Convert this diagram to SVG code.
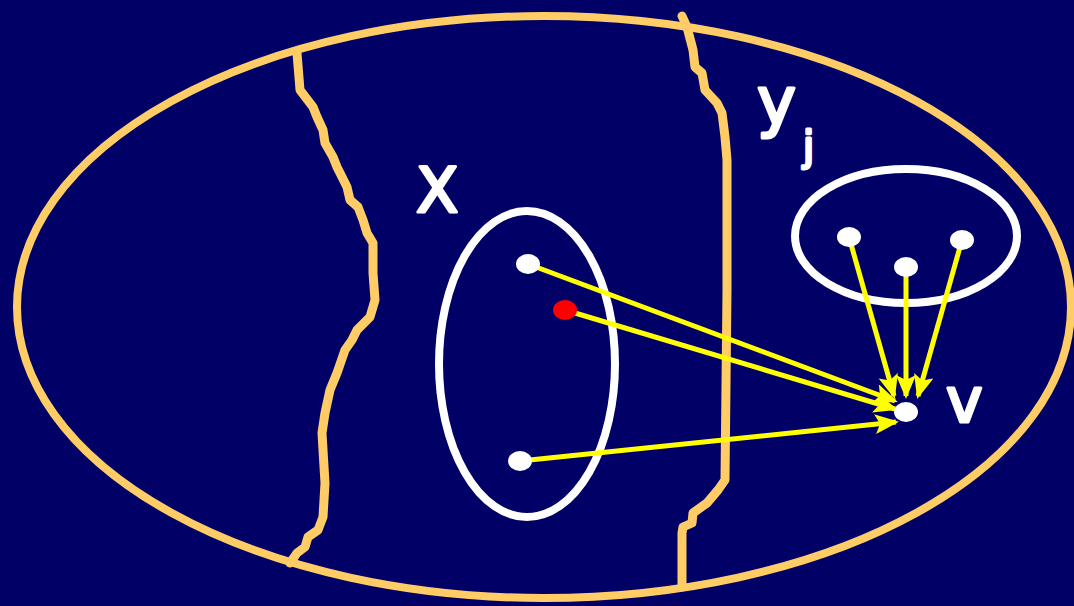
<svg xmlns="http://www.w3.org/2000/svg" width="1074" height="606" viewBox="0 0 1074 606">
<style>
.bound{fill:none;stroke:#FFCC66;stroke-width:8;stroke-linejoin:round;stroke-linecap:round}
.wig{stroke-width:9}
.set{fill:none;stroke:#FFFFFF;stroke-width:8}
.dot{fill:#FFFFFF}
.arr{stroke:#FFFF00;stroke-width:5;fill:none;marker-end:url(#ah)}
.lbl{fill:#FFFFFF;stroke:#FFFFFF;stroke-width:3;stroke-linejoin:round;font-family:"DejaVu Sans","Liberation Sans",sans-serif}
</style>
<defs>
<marker id="ah" markerUnits="userSpaceOnUse" markerWidth="26" markerHeight="22" refX="21" refY="10" orient="auto">
<path d="M0,0 L24,10 L0,20 L5,10 Z" fill="#FFFF00"/>
</marker>
</defs>
<rect width="1074" height="606" fill="#000066"/>
<g id="universe">
<ellipse cx="544" cy="307" rx="527" ry="291" class="bound"/>
<path class="bound wig" d="M297,53 L300,90 L313,107 L317,117 L323,130 L325,143 L333,157 L337,167 L347,187 L350,200 L358,207 L363,220 L367,233 L373,243 L373,273 L375,300 L370,317 L357,330 L352,340 L345,350 L337,373 L330,390 L325,413 L322,433 L323,450 L325,483 L323,517 L318,530 L308,537 L305,547 L297,553 L290,563"/>
<path class="bound wig" d="M682,16 L687,27 L693,50 L695,67 L702,73 L705,90 L717,103 L722,113 L725,137 L727,160 L727,290 L725,480 L718,490 L707,503 L693,513 L692,523 L683,527 L682,533 L682,587"/>
</g>
<g id="setX">
<ellipse cx="527" cy="364" rx="88" ry="153" class="set"/>
<text x="416" y="212" class="lbl" font-size="62">X</text>
</g>
<g id="setY">
<ellipse cx="906" cy="236" rx="111" ry="67" class="set"/>
<text x="757" y="124" class="lbl" font-size="66">y</text>
<text x="803" y="160" class="lbl" font-size="40">j</text>
</g>
<g id="connectors">
<line x1="528" y1="264" x2="895" y2="401" class="arr"/>
<line x1="565" y1="310" x2="895" y2="409" class="arr"/>
<line x1="520" y1="461" x2="896" y2="422" class="arr"/>
<line x1="849" y1="237" x2="894" y2="396" class="arr"/>
<line x1="906" y1="267" x2="906" y2="396" class="arr"/>
<line x1="962" y1="240" x2="918" y2="396" class="arr"/>
</g>
<g id="nodes">
<ellipse id="x1" cx="528" cy="264" rx="12" ry="10" class="dot"/>
<ellipse id="x2" cx="565" cy="310" rx="12" ry="10" fill="#FF0000"/>
<ellipse id="x3" cx="520" cy="461" rx="12" ry="10" class="dot"/>
<ellipse id="y1" cx="849" cy="237" rx="12" ry="10" class="dot"/>
<ellipse id="y2" cx="906" cy="267" rx="12" ry="10" class="dot"/>
<ellipse id="y3" cx="962" cy="240" rx="12" ry="10" class="dot"/>
<ellipse id="v" cx="906" cy="412" rx="12" ry="10" class="dot"/>
<text x="946" y="422" class="lbl" font-size="62">v</text>
</g>
</svg>
